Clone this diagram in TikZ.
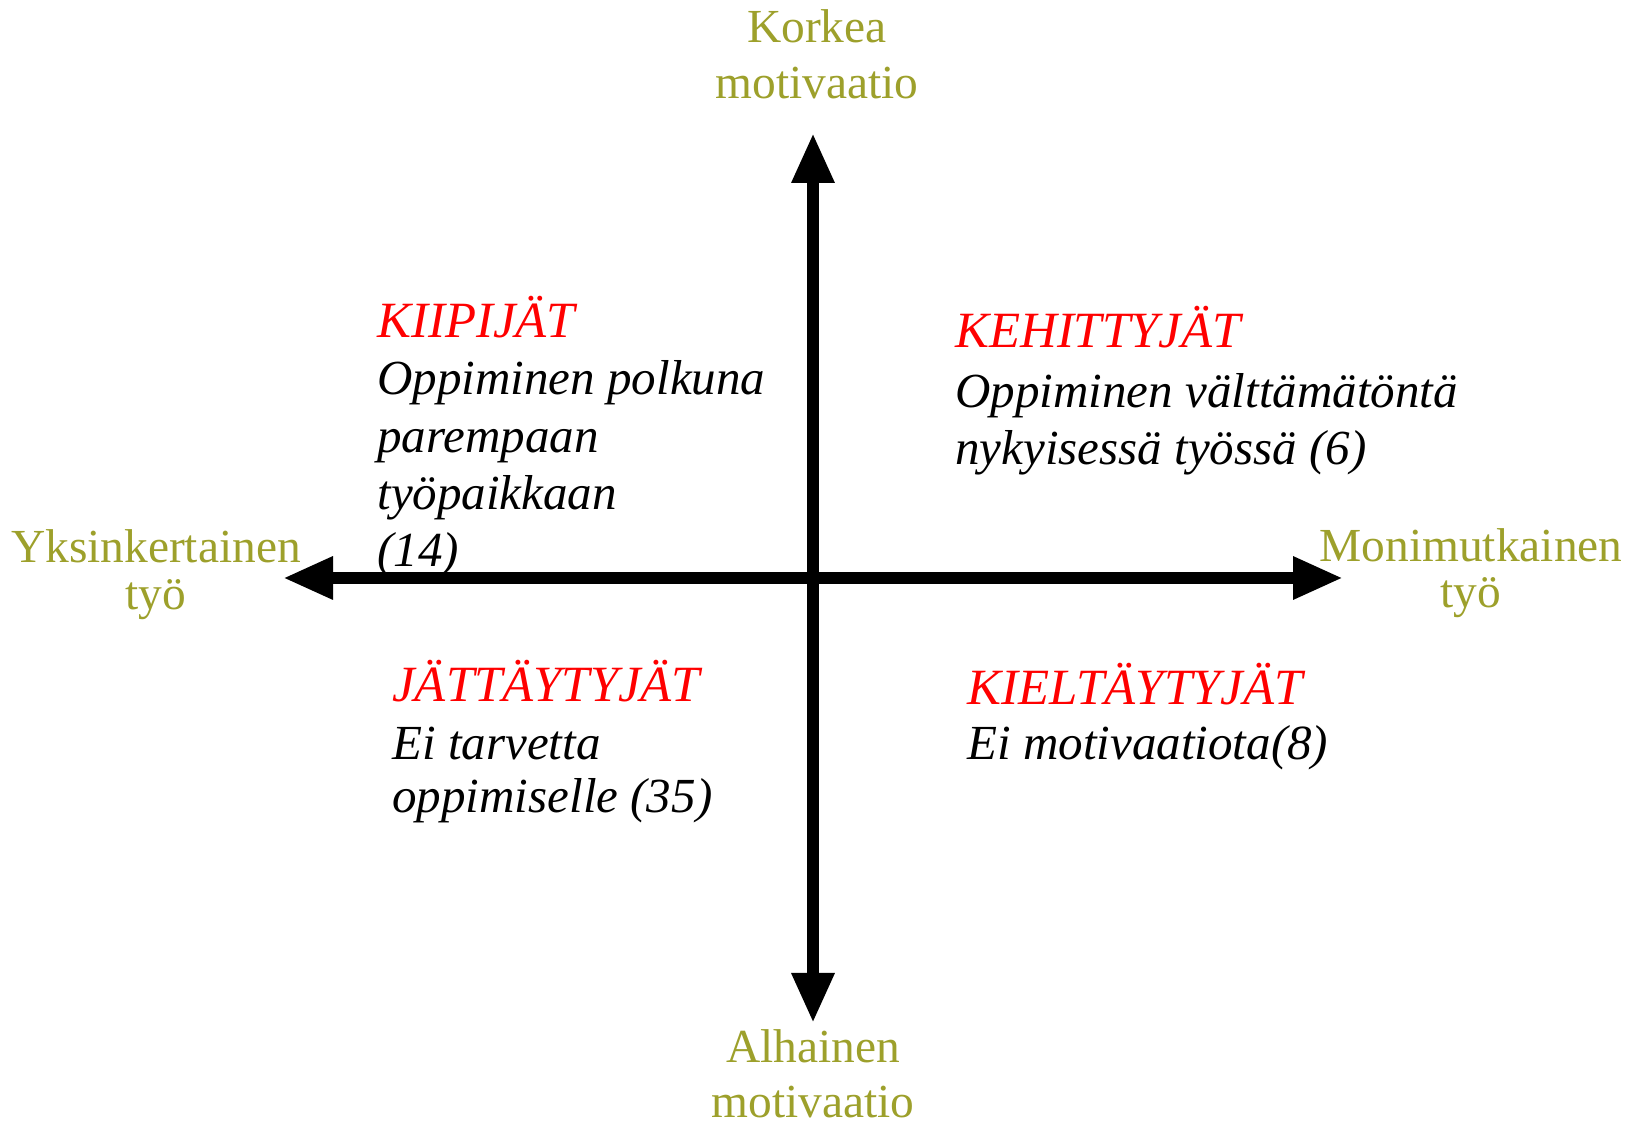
\documentclass[tikz,border=0pt]{standalone}
\usepackage{fontspec}
\setmainfont{Liberation Serif}
\usetikzlibrary{arrows.meta}
\definecolor{olive}{RGB}{157,160,43}
\definecolor{hred}{RGB}{255,0,0}
\tikzset{
  axislabel/.style={text=olive, inner sep=0pt, anchor=base, font=\fontsize{23.8}{28}\selectfont},
  headtext/.style={text=hred, inner sep=0pt, anchor=base west, font=\fontsize{25.5}{28}\selectfont\itshape},
  bodytext/.style={text=black, inner sep=0pt, anchor=base west, font=\fontsize{24.6}{28}\selectfont\itshape},
  axis/.style={line width=6bp, {Triangle[length=25bp,width=20bp]}-{Triangle[length=25bp,width=20bp]}}
}
\begin{document}
\begin{tikzpicture}[x=0.5bp,y=-0.5bp]
\useasboundingbox (0,0) rectangle (1639,1128);
% axes
\coordinate (L) at (283,578);
\coordinate (R) at (1343,578);
\coordinate (T) at (813,133);
\coordinate (B) at (813,1023);
\draw[axis] (L) -- (R);
\draw[axis] (T) -- (B);
% axis labels
\node[axislabel] (top1) at (817,43) {Korkea};
\node[axislabel] (top2) at (817,99) {motivaatio};
\node[axislabel] (bot1) at (813,1062) {Alhainen};
\node[axislabel] (bot2) at (813,1117) {motivaatio};
\node[axislabel] (left1) at (156,563) {Yksinkertainen};
\node[axislabel] (left2) at (156,610) {työ};
\node[axislabel] (right1) at (1471,562) {Monimutkainen};
\node[axislabel] (right2) at (1471,608) {työ};
% quadrant upper left
\node[headtext] (kii) at (377,338) {KIIPIJÄT};
\node[bodytext] (kii1) at (377,395) {Oppiminen polkuna};
\node[bodytext] (kii2) at (377,453) {parempaan};
\node[bodytext] (kii3) at (377,510) {työpaikkaan};
\node[bodytext] (kii4) at (377,567) {(14)};
% quadrant upper right
\node[headtext] (keh) at (955,348) {KEHITTYJÄT};
\node[bodytext] (keh1) at (955,408) {Oppiminen välttämätöntä};
\node[bodytext] (keh2) at (955,465) {nykyisessä työssä (6)};
% quadrant lower left
\node[headtext] (jat) at (392,702) {JÄTTÄYTYJÄT};
\node[bodytext] (jat1) at (392,760) {Ei tarvetta};
\node[bodytext] (jat2) at (392,813) {oppimiselle (35)};
% quadrant lower right
\node[headtext] (kie) at (967,705) {KIELTÄYTYJÄT};
\node[bodytext] (kie1) at (967,760) {Ei motivaatiota(8)};
\end{tikzpicture}
\end{document}
